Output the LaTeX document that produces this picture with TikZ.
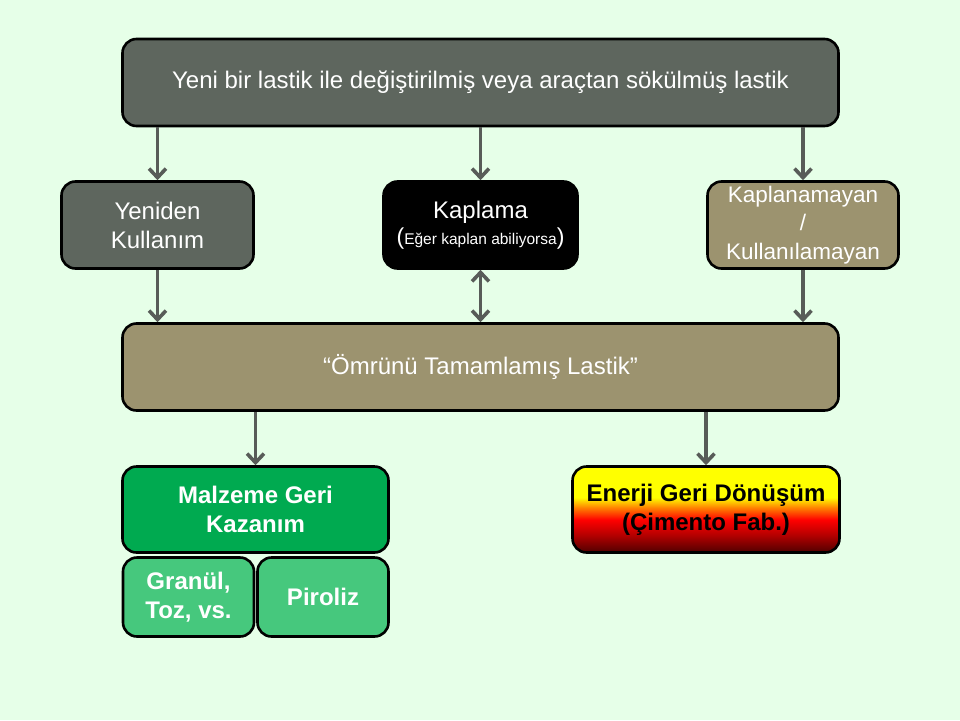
\documentclass[tikz,border=0pt]{standalone}
\usepackage{fontspec}
\setmainfont{Liberation Sans}
\usetikzlibrary{arrows.meta}
\definecolor{bgc}{RGB}{230,255,232}
\definecolor{grayc}{RGB}{94,102,94}
\definecolor{khaki}{RGB}{156,147,111}
\definecolor{greenc}{RGB}{0,170,80}
\definecolor{lgreen}{RGB}{70,200,125}
\definecolor{arrc}{RGB}{88,92,88}
\definecolor{dred}{RGB}{80,0,0}
\pgfdeclareverticalshading{enerji}{100bp}{color(0bp)=(dred); color(25bp)=(dred); color(35bp)=(red!70!black); color(44bp)=(red); color(51bp)=(orange); color(57bp)=(yellow); color(100bp)=(yellow)}
\tikzset{
  box/.style={draw=black, line width=2.6pt, rounded corners=14pt, inner sep=0pt, align=center,
    text=white, font=\fontsize{24}{29}\selectfont},
  bbox/.style={box, font=\bfseries\fontsize{24}{29}\selectfont},
  tip/.tip={Straight Barb[length=9pt,width=17pt,line width=3.6pt]},
  arr/.style={draw=arrc, line width=3.6pt, -tip},
  darr/.style={draw=arrc, line width=3.6pt, tip-tip},
}
\begin{document}
\begin{tikzpicture}[x=1pt,y=-1pt]
\fill[bgc] (0,0) rectangle (960,720);
\useasboundingbox (0,0) rectangle (960,720);

\node[box, fill=grayc, minimum width=716pt, minimum height=87pt] (top) at (480.5,82.5)
  {Yeni bir lastik ile değiştirilmiş veya araçtan sökülmüş lastik};

\node[box, fill=grayc, minimum width=192pt, minimum height=87pt] (yen) at (157.5,225)
  {Yeniden\\Kullanım};
\node[box, fill=black, minimum width=194pt, minimum height=87pt] (kap) at (480.5,225)
  {Kaplama\\[-3pt]{\fontsize{23}{26}\selectfont(}{\fontsize{15.5}{26}\selectfont Eğer kaplan abiliyorsa}{\fontsize{23}{26}\selectfont)}};
\node[box, fill=khaki, minimum width=191pt, minimum height=87pt, font=\fontsize{22.5}{28.5}\selectfont] (kan) at (803,225)
  {Kaplanamayan\\/\\Kullanılamayan};

\node[box, fill=khaki, minimum width=716pt, minimum height=87pt] (omr) at (480.5,367)
  {“Ömrünü Tamamlamış Lastik”};

\node[bbox, fill=greenc, minimum width=266pt, minimum height=86pt] (mal) at (255.5,509.5)
  {Malzeme Geri\\Kazanım};
\node[bbox, fill=lgreen, minimum width=131pt, minimum height=79pt] (gra) at (188.5,597)
  {Granül,\\Toz, vs.};
\node[bbox, fill=lgreen, minimum width=131pt, minimum height=79pt] (pir) at (323,597)
  {Piroliz};

\node[bbox, shading=enerji, draw=black, minimum width=267pt, minimum height=86pt, text=black] (ene) at (706,509.5)
  {Enerji Geri Dönüşüm\\(Çimento Fab.)};

\draw[arr] (top.south -| yen) -- (yen.north);
\draw[arr] (top.south -| kap) -- (kap.north);
\draw[arr] (top.south -| kan) -- (kan.north);
\draw[arr] (yen.south) -- (omr.north -| yen);
\draw[darr] (kap.south) -- (omr.north -| kap);
\draw[arr] (kan.south) -- (omr.north -| kan);
\draw[arr] (omr.south -| mal) -- (mal.north);
\draw[arr] (omr.south -| ene) -- (ene.north);
\end{tikzpicture}
\end{document}
